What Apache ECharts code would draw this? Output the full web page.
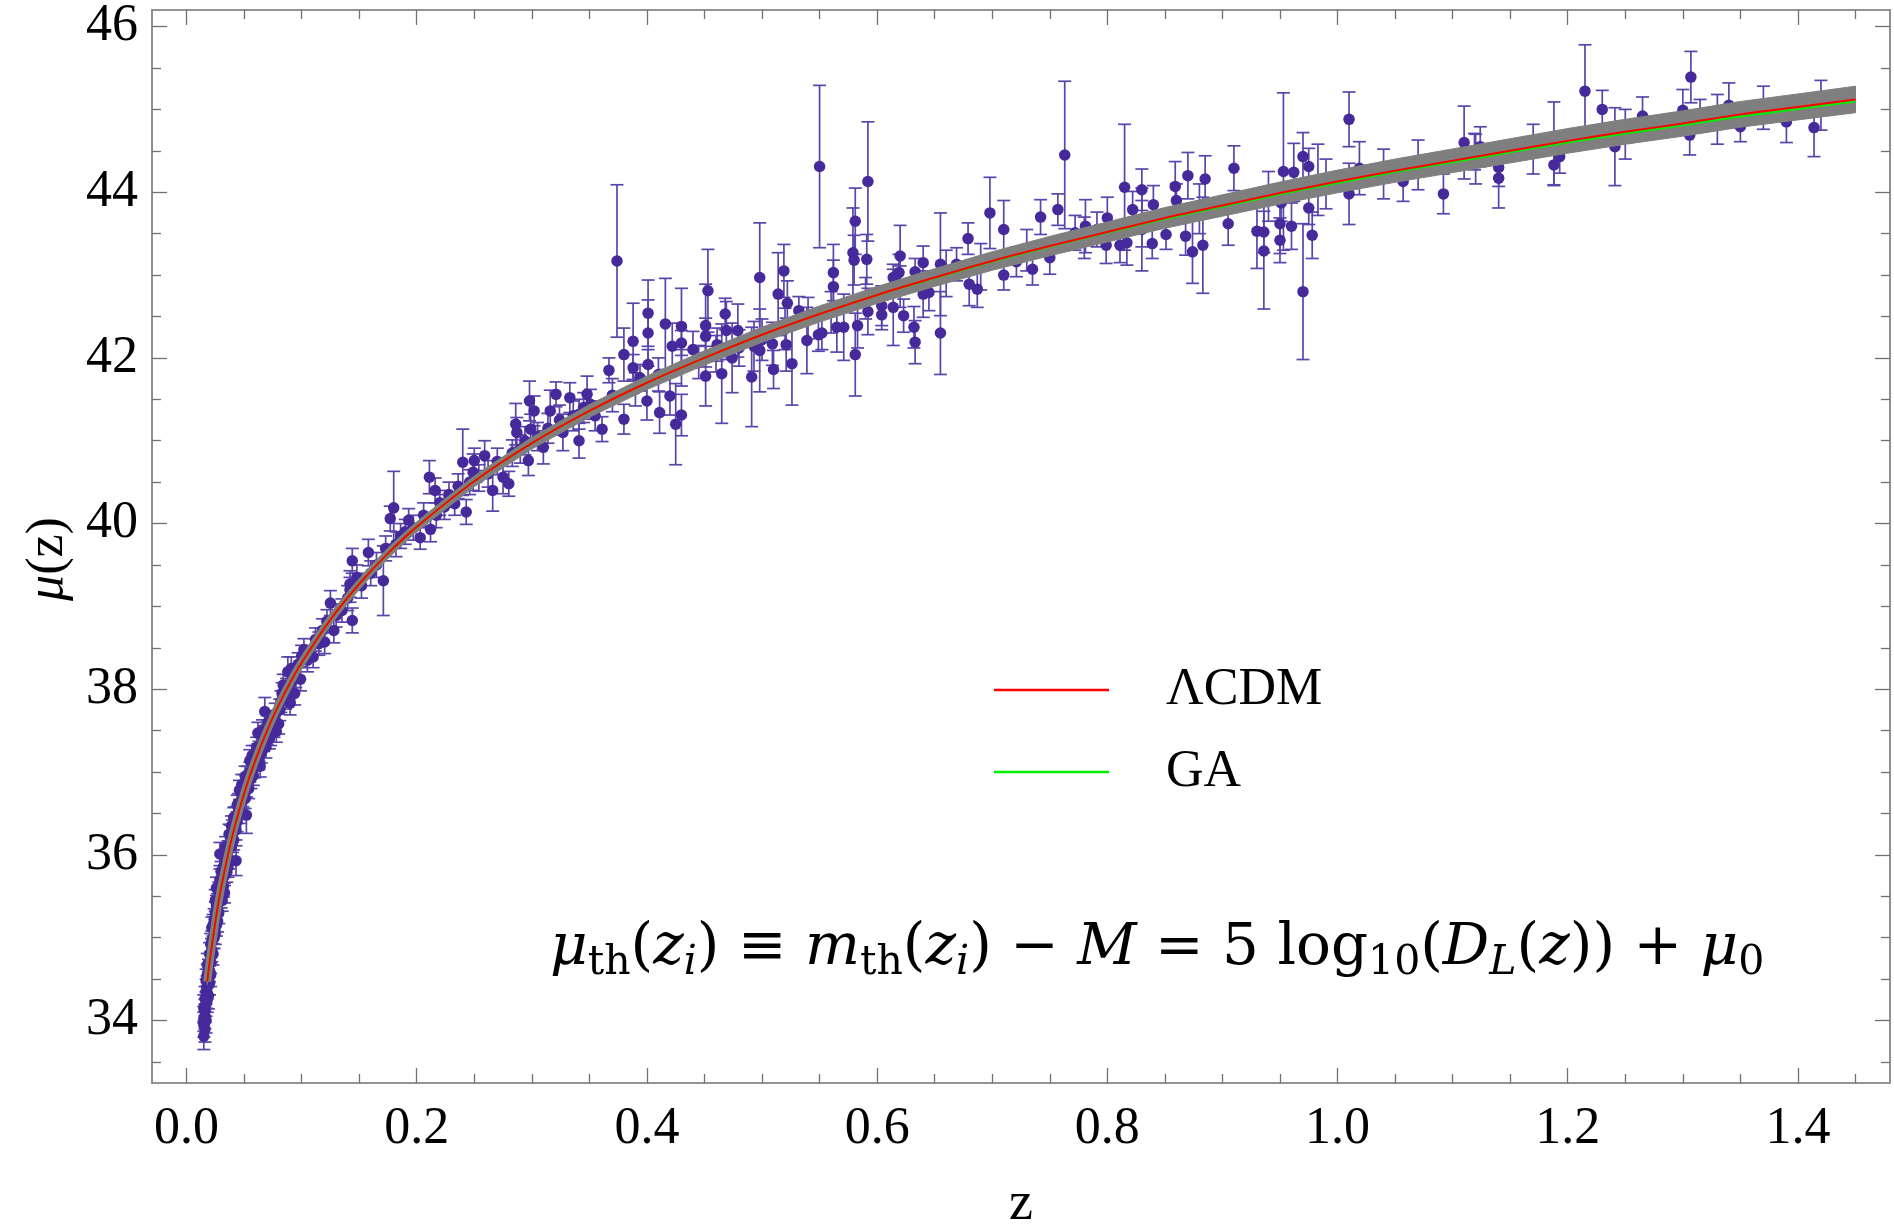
<!DOCTYPE html>
<html><head><meta charset="utf-8">
<script src="https://cdn.jsdelivr.net/npm/echarts@6/dist/echarts.min.js"></script>
<style>html,body{margin:0;padding:0;background:#fff}#c{width:1894px;height:1230px}</style>
</head><body><div id="c"></div>
<script>
// ---- theory curves ----
const curveZ = [0.018,0.02,0.025,0.03,0.04,0.05,0.06,0.075,0.09,0.1,0.125,0.15,0.175,0.2,0.25,0.3,0.35,0.4,0.45,0.5,0.55,0.6,0.65,0.7,0.75,0.8,0.85,0.9,0.95,1.0,1.05,1.1,1.15,1.2,1.25,1.3,1.35,1.4,1.45];
const lcdmMu = [34.47,34.70,35.19,35.60,36.24,36.74,37.15,37.66,38.08,38.32,38.84,39.27,39.64,39.96,40.51,40.97,41.36,41.70,42.00,42.28,42.53,42.76,42.97,43.17,43.35,43.52,43.69,43.84,43.99,44.13,44.26,44.38,44.50,44.62,44.73,44.83,44.94,45.03,45.12];
const gaMu = [34.47,34.70,35.19,35.60,36.24,36.74,37.15,37.66,38.08,38.32,38.84,39.27,39.64,39.96,40.51,40.97,41.36,41.70,42.00,42.28,42.53,42.76,42.965,43.163,43.343,43.512,43.678,43.826,43.974,44.112,44.243,44.363,44.482,44.600,44.708,44.807,44.915,45.004,45.095];
const bandHalf = [0.035,0.035,0.036,0.037,0.038,0.04,0.041,0.043,0.045,0.046,0.05,0.053,0.056,0.06,0.065,0.07,0.076,0.082,0.087,0.092,0.097,0.102,0.107,0.112,0.117,0.121,0.125,0.129,0.133,0.137,0.14,0.143,0.146,0.149,0.151,0.153,0.155,0.157,0.16];

// ---- supernova data: redshift, distance modulus, error ----
const snZ = [
0.015,0.015,0.016,0.016,0.017,0.017,0.018,0.018,0.019,0.020,0.020,0.021,0.022,0.022,0.023,0.024,0.025,0.025,0.026,0.027,0.028,0.029,0.030,0.031,0.032,0.033,0.034,0.035,0.036,0.037,0.038,0.039,0.040,0.041,0.042,0.043,0.044,0.045,0.046,0.047,0.048,0.050,0.051,0.052,0.053,0.055,0.056,0.058,0.060,0.062,0.063,0.064,0.065,0.067,0.068,0.070,0.072,0.074,0.076,0.078,0.080,0.082,0.084,0.086,0.088,0.090,0.092,0.095,0.099,0.100,0.102,0.105,0.110,0.112,0.115,0.118,0.120,0.122,0.125,0.128,0.130,0.135,0.140,0.142,0.142,0.144,0.144,0.148,0.152,0.158,0.160,0.165,0.171,0.173,0.177,0.180,0.182,0.186,0.190,0.193,0.197,0.203,0.206,0.211,0.212,0.216,0.217,0.220,0.224,0.228,0.233,0.236,0.240,0.243,0.246,0.249,0.250,0.254,0.259,0.262,0.266,0.270,0.275,0.280,0.283,0.286,0.287,0.290,0.294,0.297,0.298,0.299,0.302,0.305,0.310,0.314,0.316,0.321,0.324,0.327,0.333,0.336,0.341,0.341,0.345,0.348,0.351,0.355,
0.015,0.015,0.016,0.016,0.017,0.017,0.018,0.018,0.019,0.019,0.020,0.021,0.021,0.022,0.023,0.023,0.024,0.025,0.026,0.026,0.027,0.028,0.029,0.030,0.031,0.032,0.033,0.034,0.035,0.036,0.037,0.039,0.040,0.041,0.043,0.044,0.046,0.048,0.049,0.051,0.054,0.055,0.057,0.059,0.061,0.063,0.066,0.069,0.071,0.073,0.077,0.081,0.083,0.087,0.091,0.094,0.097,
0.374,0.367,0.361,0.380,0.380,0.388,0.388,0.394,0.401,0.401,0.401,0.400,0.411,0.416,0.422,0.430,0.430,0.425,0.430,0.420,0.440,0.453,0.451,0.451,0.451,0.461,0.468,0.465,0.469,0.474,0.479,0.491,0.493,0.498,0.498,0.509,0.510,0.514,0.519,0.522,0.521,0.526,0.532,0.539,0.549,0.550,0.552,0.562,0.562,0.565,0.571,0.581,0.579,0.580,0.581,0.583,0.592,0.591,0.592,0.604,0.604,0.614,0.614,0.620,0.619,0.623,0.632,0.633,0.633,0.640,0.640,0.645,0.655,0.655,0.669,0.679,0.680,0.687,0.698,
0.710,0.710,0.721,0.735,0.742,0.750,0.757,0.763,0.772,0.781,0.791,0.800,0.799,0.811,0.815,0.817,0.822,0.830,0.830,0.840,0.839,0.851,0.859,0.860,0.870,0.868,0.874,0.883,0.885,0.905,0.910,0.930,0.936,0.936,0.950,0.950,0.953,0.951,0.960,0.962,0.970,0.970,0.975,0.975,0.978,0.983,1.010,1.010,1.019,1.057,
1.092,1.110,1.124,1.119,1.140,1.140,1.188,1.193,1.188,1.215,1.230,1.241,1.265,1.300,1.307,1.306,1.315,1.340,1.350,1.370,1.390,1.414,
0.370,0.390,0.410,0.430,0.445,0.460,0.480,0.500,0.520,0.540,0.560,0.590,0.620,0.660,0.690,0.730,0.780,0.830,0.880,0.940,0.990,1.040,1.070,1.120,1.170,1.250,1.330,1.420];
const snMu = [
33.81,34.02,34.26,34.12,34.48,34.35,34.67,34.55,34.30,34.80,34.60,34.92,35.12,34.85,35.00,35.22,35.30,35.05,35.39,35.20,35.55,36.01,35.48,35.70,35.62,35.54,35.92,35.79,36.05,35.95,36.24,36.10,36.30,36.18,36.46,35.93,36.40,36.62,36.78,36.50,36.66,36.85,36.68,36.48,36.95,37.14,36.92,36.96,37.20,37.47,37.25,37.07,37.23,37.38,37.73,37.45,37.40,37.62,37.55,37.49,37.58,37.85,38.05,37.90,38.21,37.83,38.10,38.15,38.12,38.40,38.48,38.35,38.39,38.60,38.55,38.71,38.57,38.82,39.04,38.71,38.89,38.95,39.10,39.27,39.20,39.55,38.83,39.35,39.25,39.65,39.40,39.50,39.31,39.70,40.06,40.19,39.75,39.85,39.90,40.04,39.95,39.83,40.10,40.56,39.93,40.40,40.10,40.25,40.20,40.35,40.24,40.45,40.74,40.14,40.50,40.62,40.76,40.55,40.82,40.60,40.40,40.75,40.56,40.48,40.85,41.20,41.10,40.90,41.00,40.76,41.48,41.14,41.36,41.05,40.92,41.15,41.36,41.56,41.25,41.10,41.52,41.30,41.00,41.32,41.40,41.56,41.44,41.30,
33.95,34.15,34.05,33.90,34.20,34.00,34.40,34.25,34.45,34.60,34.45,34.70,34.55,34.95,34.80,35.15,35.00,35.45,35.15,35.60,35.40,35.30,35.70,35.80,35.45,35.85,35.75,36.10,35.95,35.85,36.25,36.35,36.15,36.45,36.30,36.60,36.55,36.85,36.70,36.95,36.80,37.00,37.20,37.05,37.30,37.15,37.50,37.30,37.60,37.45,37.70,37.75,37.95,38.00,38.25,37.95,38.30,
43.17,41.85,41.14,42.04,41.26,42.20,41.88,41.76,42.54,42.30,41.92,41.48,41.34,42.41,42.14,42.38,42.18,41.20,41.31,41.54,42.10,42.81,42.39,42.26,41.78,42.16,42.53,41.81,42.33,42.00,42.33,41.77,42.14,42.97,42.09,42.17,41.86,42.77,43.05,42.66,42.16,41.93,42.57,42.21,42.28,44.31,42.30,43.03,42.86,42.37,42.37,43.65,43.27,43.18,42.04,42.39,44.13,43.19,42.56,42.52,42.63,42.61,42.97,43.23,43.03,42.51,42.37,42.19,43.04,42.77,43.15,42.79,43.13,42.30,43.13,43.44,42.89,42.83,43.75,
43.55,43.00,43.16,43.07,43.70,43.21,43.79,44.45,43.51,43.59,43.55,43.69,43.36,43.36,44.06,43.39,43.79,44.03,43.55,43.85,43.38,43.49,44.07,43.90,44.20,43.47,43.28,43.36,44.16,43.62,44.29,43.53,43.52,43.29,43.62,43.42,44.25,43.87,43.59,44.24,44.43,42.80,44.31,43.81,43.48,44.15,44.88,43.98,44.29,44.13,
43.98,44.60,44.55,44.49,44.30,44.17,44.33,44.43,44.59,45.22,45.00,44.55,44.92,44.99,45.39,44.69,44.95,45.05,44.79,45.02,44.85,44.78,
41.55,41.62,41.80,41.88,41.95,42.05,42.12,42.22,42.35,42.48,42.55,42.72,42.86,43.02,43.10,43.30,43.45,43.62,43.80,43.95,44.10,44.22,44.33,44.40,44.52,44.70,44.88,45.05];
const snErr = [
0.16,0.15,0.15,0.14,0.14,0.15,0.14,0.13,0.16,0.14,0.13,0.13,0.13,0.14,0.13,0.13,0.13,0.13,0.12,0.13,0.12,0.14,0.12,0.12,0.13,0.12,0.12,0.12,0.12,0.12,0.12,0.12,0.12,0.12,0.12,0.18,0.12,0.12,0.12,0.12,0.12,0.12,0.12,0.22,0.12,0.13,0.12,0.12,0.12,0.13,0.12,0.13,0.12,0.13,0.17,0.12,0.12,0.12,0.13,0.13,0.12,0.13,0.13,0.14,0.18,0.14,0.13,0.13,0.14,0.13,0.13,0.14,0.13,0.14,0.14,0.14,0.14,0.14,0.15,0.15,0.14,0.14,0.15,0.16,0.15,0.15,0.15,0.15,0.15,0.16,0.15,0.15,0.42,0.15,0.15,0.44,0.15,0.15,0.15,0.14,0.15,0.14,0.15,0.20,0.15,0.15,0.15,0.15,0.15,0.15,0.14,0.15,0.40,0.15,0.15,0.22,0.15,0.16,0.18,0.16,0.25,0.16,0.20,0.15,0.16,0.25,0.18,0.17,0.17,0.18,0.24,0.18,0.18,0.17,0.20,0.18,0.25,0.15,0.18,0.22,0.18,0.18,0.21,0.18,0.18,0.22,0.18,0.18,
0.15,0.16,0.15,0.16,0.15,0.15,0.14,0.15,0.14,0.14,0.14,0.13,0.14,0.13,0.13,0.13,0.13,0.13,0.13,0.13,0.13,0.13,0.13,0.12,0.13,0.12,0.12,0.12,0.12,0.12,0.12,0.12,0.12,0.12,0.12,0.12,0.12,0.12,0.12,0.12,0.12,0.12,0.12,0.12,0.12,0.12,0.13,0.13,0.13,0.13,0.13,0.13,0.13,0.13,0.14,0.14,0.14,
0.92,0.15,0.15,0.32,0.18,0.46,0.16,0.16,0.40,0.40,0.18,0.23,0.25,0.55,0.28,0.46,0.15,0.49,0.25,0.23,0.22,0.50,0.50,0.22,0.36,0.20,0.19,0.60,0.35,0.42,0.32,0.60,0.30,0.66,0.50,0.26,0.23,0.50,0.32,0.27,0.32,0.50,0.17,0.40,0.20,0.98,0.20,0.34,0.32,0.30,0.40,0.40,0.54,0.30,0.50,0.27,0.72,0.30,0.28,0.18,0.24,0.46,0.16,0.37,0.22,0.20,0.25,0.26,0.16,0.28,0.20,0.22,0.62,0.50,0.20,0.19,0.26,0.22,0.43,
0.35,0.18,0.18,0.19,0.21,0.20,0.19,0.89,0.21,0.32,0.21,0.25,0.22,0.21,0.76,0.27,0.22,0.25,0.50,0.23,0.18,0.18,0.30,0.20,0.28,0.23,0.38,0.58,0.28,0.26,0.27,0.45,0.25,0.70,0.36,0.27,0.95,0.22,0.28,0.35,0.29,0.82,0.22,0.20,0.28,0.43,0.33,0.37,0.32,0.24,
0.24,0.44,0.24,0.22,0.23,0.36,0.25,0.20,0.50,0.56,0.23,0.47,0.23,0.25,0.31,0.24,0.17,0.27,0.18,0.26,0.25,0.35,
0.20,0.20,0.20,0.22,0.20,0.22,0.22,0.25,0.25,0.25,0.25,0.25,0.25,0.28,0.28,0.25,0.25,0.28,0.30,0.30,0.30,0.30,0.30,0.30,0.30,0.30,0.30,0.30];

// ---- axis ticks ----
const xMajor = [0,0.2,0.4,0.6,0.8,1.0,1.2,1.4];
const xMinor = [0.05,0.1,0.15,0.25,0.3,0.35,0.45,0.5,0.55,0.65,0.7,0.75,0.85,0.9,0.95,1.05,1.1,1.15,1.25,1.3,1.35,1.45];
const yMajor = [34,36,38,40,42,44,46];
const yMinor = [33.5,34.5,35,35.5,36.5,37,37.5,38.5,39,39.5,40.5,41,41.5,42.5,43,43.5,44.5,45,45.5];

const XMIN = -0.030, XMAX = 1.480, YMIN = 33.246, YMAX = 46.20;
const SERIF = 'Liberation Serif';
const MATH = 'DejaVu Serif';
const PURPLE = '#46299a', BAR = '#5a45aa', GRAY = '#7f7f7f', FRAME = '#8c8c8c';

const snData = snZ.map((z, i) => [z, snMu[i], snErr[i]]);
const lcdmData = curveZ.map((z, i) => [z, lcdmMu[i]]);
const gaData = curveZ.map((z, i) => [z, gaMu[i]]);

function xAx(pos, ticks, len, labels) {
  return {
    type: 'value', position: pos, min: XMIN, max: XMAX, gridIndex: 0,
    axisLine: { show: true, onZero: false, lineStyle: { color: FRAME, width: 1.6 } },
    axisTick: { show: true, inside: true, length: len, customValues: ticks, lineStyle: { color: '#707070', width: 1.3 } },
    axisLabel: labels ? { show: true, customValues: xMajor, formatter: v => v.toFixed(1), fontFamily: SERIF, fontSize: 52, color: '#000', margin: 20 } : { show: false },
    splitLine: { show: false }
  };
}
function yAx(pos, ticks, len, labels) {
  return {
    type: 'value', position: pos, min: YMIN, max: YMAX, gridIndex: 0,
    axisLine: { show: true, onZero: false, lineStyle: { color: FRAME, width: 1.6 } },
    axisTick: { show: true, inside: true, length: len, customValues: ticks, lineStyle: { color: '#707070', width: 1.3 } },
    axisLabel: labels ? { show: true, customValues: yMajor, formatter: v => String(v), fontFamily: SERIF, fontSize: 52, color: '#000', margin: 14 } : { show: false },
    splitLine: { show: false }
  };
}

const chart = echarts.init(document.getElementById('c'), null, { renderer: 'canvas' });
const formula = '{i|μ}{s|th}{r|(}{i|z}{si|i}{r|) ≡ }{i|m}{s|th}{r|(}{i|z}{si|i}{r|) − }{i|M}{r| = 5 log}{s|10}{r|(}{i|D}{si|L}{r|(}{i|z}{r|)) + }{i|μ}{s|0}';
const fs = 58;
chart.setOption({
  animation: false,
  backgroundColor: '#fff',
  grid: { left: 152, right: 4, top: 10, bottom: 147, containLabel: false },
  xAxis: [xAx('bottom', xMajor, 15, true), xAx('bottom', xMinor, 9, false), xAx('top', xMajor, 15, false), xAx('top', xMinor, 9, false)],
  yAxis: [yAx('left', yMajor, 15, true), yAx('left', yMinor, 9, false), yAx('right', yMajor, 15, false), yAx('right', yMinor, 9, false)],
  legend: {
    data: ['ΛCDM', 'GA'], orient: 'vertical', left: 989, top: 655,
    icon: 'rect', itemWidth: 115, itemHeight: 2.5, itemGap: 22, selectedMode: false,
    textStyle: { fontFamily: SERIF, fontSize: 52, color: '#000', padding: [0, 0, 0, 52], lineHeight: 60 }
  },
  graphic: [
    { type: 'text', left: 550, top: 920, z: 100, style: {
      text: formula, fill: '#000',
      rich: {
        r: { fontFamily: MATH, fontSize: fs, lineHeight: 70, verticalAlign: 'middle', fill: '#000' },
        i: { fontFamily: MATH, fontStyle: 'italic', fontSize: fs, lineHeight: 70, verticalAlign: 'middle', fill: '#000' },
        s: { fontFamily: MATH, fontSize: 41, lineHeight: 36, verticalAlign: 'bottom', fill: '#000' },
        si: { fontFamily: MATH, fontStyle: 'italic', fontSize: 41, lineHeight: 36, verticalAlign: 'bottom', fill: '#000' }
      } } },
    { type: 'text', x: 48, y: 559, rotation: Math.PI / 2, z: 100, style: {
      text: '{i|μ}{r|(z)}', align: 'center', verticalAlign: 'middle',
      rich: {
        r: { fontFamily: SERIF, fontSize: 52, fill: '#000' },
        i: { fontFamily: SERIF, fontStyle: 'italic', fontSize: 52, fill: '#000' }
      } } },
    { type: 'text', x: 1021, y: 1205, z: 100, style: { text: 'z', fontFamily: SERIF, fontSize: 54, fill: '#000', align: 'center', verticalAlign: 'middle' } }
  ],
  series: [
    { name: 'errors', type: 'custom', xAxisIndex: 0, yAxisIndex: 0, z: 1, silent: true, clip: true,
      renderItem(params, api) {
        const z = api.value(0), m = api.value(1), e = api.value(2);
        const t = api.coord([z, m + e]), b = api.coord([z, m - e]);
        const cw = 6.5;
        const st = { stroke: BAR, lineWidth: 1.7 };
        return { type: 'group', children: [
          { type: 'line', shape: { x1: t[0], y1: t[1], x2: b[0], y2: b[1] }, style: st },
          { type: 'line', shape: { x1: t[0] - cw, y1: t[1], x2: t[0] + cw, y2: t[1] }, style: st },
          { type: 'line', shape: { x1: b[0] - cw, y1: b[1], x2: b[0] + cw, y2: b[1] }, style: st }
        ] };
      },
      data: snData },
    { name: 'data', type: 'scatter', xAxisIndex: 0, yAxisIndex: 0, z: 2, symbol: 'circle', symbolSize: 11.5,
      itemStyle: { color: PURPLE, opacity: 1 }, data: snData.map(d => [d[0], d[1]]), silent: true },
    { name: 'band', type: 'custom', xAxisIndex: 0, yAxisIndex: 0, z: 3, silent: true, clip: true,
      renderItem(params, api) {
        const up = curveZ.map((z, i) => api.coord([z, lcdmMu[i] + bandHalf[i]]));
        const lo = curveZ.map((z, i) => api.coord([z, lcdmMu[i] - bandHalf[i]])).reverse();
        return { type: 'polygon', shape: { points: up.concat(lo) }, style: { fill: GRAY, stroke: GRAY, lineWidth: 1 } };
      },
      data: [[0, 0]] },
    { name: 'bandCore', type: 'line', xAxisIndex: 0, yAxisIndex: 0, z: 3, silent: true, showSymbol: false, smooth: 0.25,
      lineStyle: { color: GRAY, width: 8 }, data: lcdmData },
    { name: 'GA', type: 'line', xAxisIndex: 0, yAxisIndex: 0, z: 4, showSymbol: false, smooth: 0.25,
      itemStyle: { color: '#00ee00' }, lineStyle: { color: '#00ee00', width: 2 }, data: gaData },
    { name: 'ΛCDM', type: 'line', xAxisIndex: 0, yAxisIndex: 0, z: 5, showSymbol: false, smooth: 0.25,
      itemStyle: { color: '#ff0000' }, lineStyle: { color: '#ff0000', width: 2 }, data: lcdmData }
  ]
});
</script>
</body></html>
